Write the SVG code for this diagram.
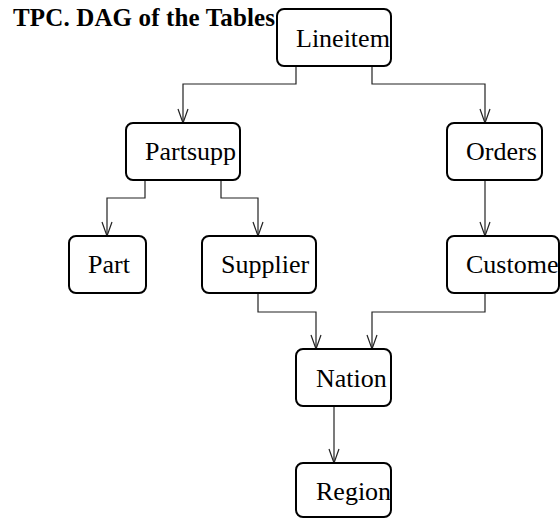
<svg xmlns="http://www.w3.org/2000/svg" width="560" height="518" viewBox="0 0 560 518">
<style>
.box{fill:#fff;stroke:#000;stroke-width:2}
.lbl{font-family:"Liberation Serif","Times New Roman",serif;font-size:26px;fill:#000}
.title{font-family:"Liberation Serif","Times New Roman",serif;font-size:25px;font-weight:bold;fill:#000}
.edge{fill:none;stroke:#222;stroke-width:1.2}
</style>
<defs>
<marker id="arr" markerUnits="userSpaceOnUse" markerWidth="16" markerHeight="12" refX="0" refY="0" viewBox="-15 -6 16 12" orient="auto" overflow="visible">
<path d="M-14,-5 L0,0 L-14,5" fill="none" stroke="#222" stroke-width="1.2"/>
</marker>
</defs>
<rect width="560" height="518" fill="#fff"/>
<text class="title" x="13" y="26" textLength="262" lengthAdjust="spacing">TPC. DAG of the Tables</text>
<g id="connectors">
<path class="edge" marker-end="url(#arr)" d="M296,66 V84 H183 V123"/>
<path class="edge" marker-end="url(#arr)" d="M372,66 V84 H485 V123"/>
<path class="edge" marker-end="url(#arr)" d="M145,180 V198 H107 V236"/>
<path class="edge" marker-end="url(#arr)" d="M221,180 V198 H258 V236"/>
<path class="edge" marker-end="url(#arr)" d="M485,180 V236"/>
<path class="edge" marker-end="url(#arr)" d="M258,293 V312 H316 V349"/>
<path class="edge" marker-end="url(#arr)" d="M485,293 V312 H372 V349"/>
<path class="edge" marker-end="url(#arr)" d="M334,406 V463"/>
</g>
<g id="lineitem"><rect class="box" x="277" y="9" width="114" height="57" rx="7"/><text class="lbl" x="296" y="47">Lineitem</text></g>
<g id="partsupp"><rect class="box" x="126" y="123" width="114" height="57" rx="7"/><text class="lbl" x="145" y="160">Partsupp</text></g>
<g id="orders"><rect class="box" x="447" y="123" width="95" height="57" rx="7"/><text class="lbl" x="466" y="160">Orders</text></g>
<g id="part"><rect class="box" x="69" y="236" width="77" height="57" rx="7"/><text class="lbl" x="88" y="273">Part</text></g>
<g id="supplier"><rect class="box" x="202" y="236" width="114" height="57" rx="7"/><text class="lbl" x="221" y="273">Supplier</text></g>
<g id="customer"><rect class="box" x="447" y="236" width="112" height="57" rx="7"/><text class="lbl" x="466" y="273">Customer</text></g>
<g id="nation"><rect class="box" x="296" y="349" width="95" height="57" rx="7"/><text class="lbl" x="316" y="387">Nation</text></g>
<g id="region"><rect class="box" x="296" y="463" width="95" height="54" rx="7"/><text class="lbl" x="316" y="500">Region</text></g>
</svg>
